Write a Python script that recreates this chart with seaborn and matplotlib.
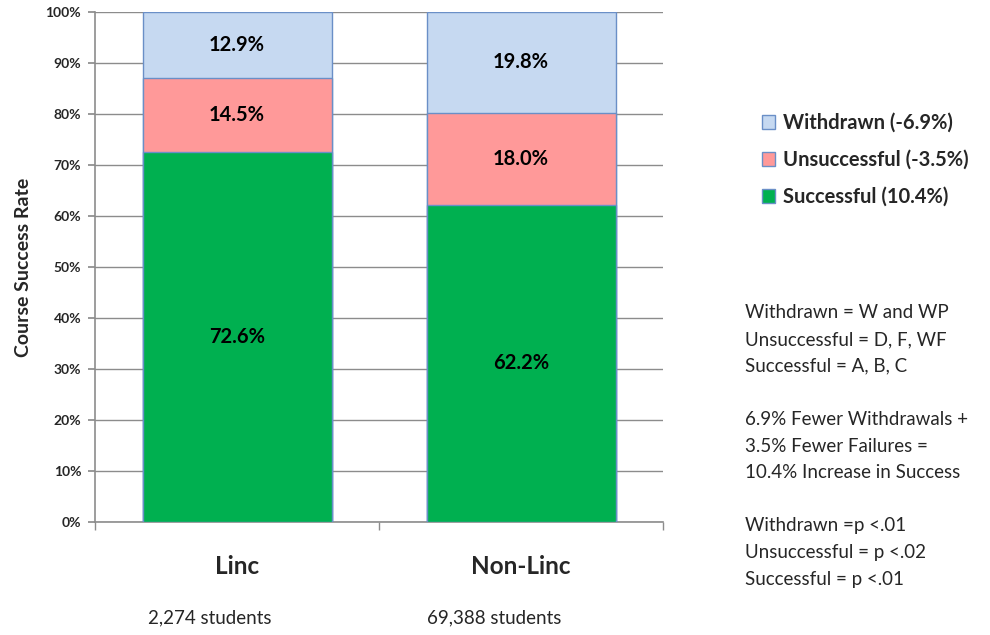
import matplotlib
matplotlib.use("Agg")
import matplotlib.pyplot as plt
import matplotlib.transforms as mtransforms
from matplotlib.patches import Patch
import seaborn as sns
import pandas as pd
import numpy as np

groups = ["Linc", "Non-Linc"]
students = ["2,274 students", "69,388 students"]
successful = [72.6, 62.2]
unsuccessful = [14.5, 18.0]
withdrawn = [12.9, 19.8]
legend_labels = ["Withdrawn (-6.9%)", "Unsuccessful (-3.5%)", "Successful (10.4%)"]
yticks = [0, 10, 20, 30, 40, 50, 60, 70, 80, 90, 100]
notes = ["Withdrawn = W and WP", "Unsuccessful = D, F, WF", "Successful = A, B, C", "",
         "6.9% Fewer Withdrawals +", "3.5% Fewer Failures =", "10.4% Increase in Success", "",
         "Withdrawn =p <.01", "Unsuccessful = p <.02", "Successful = p <.01"]

c_succ = "#00B050"
c_uns = "#FF9999"
c_wd = "#C6D9F1"
edge = "#6A8FC7"

sns.set_theme(style="white")
plt.rcParams['font.family'] = ['Lato', 'DejaVu Sans']

df = pd.DataFrame({"group": groups, "s": successful, "u": unsuccessful, "w": withdrawn})
df["su"] = df["s"] + df["u"]
df["suw"] = df["su"] + df["w"]

fig = plt.figure(figsize=(9.9, 6.35), dpi=100)
ax = fig.add_axes([95/990, 1-522/635, (663-95)/990, 510/635])

w = 189/284
sns.barplot(data=df, x="group", y="suw", color=c_wd, width=w, edgecolor=edge, linewidth=1, ax=ax, saturation=1, zorder=3)
sns.barplot(data=df, x="group", y="su", color=c_uns, width=w, edgecolor=edge, linewidth=1, ax=ax, saturation=1, zorder=3)
sns.barplot(data=df, x="group", y="s", color=c_succ, width=w, edgecolor=edge, linewidth=1, ax=ax, saturation=1, zorder=3)

for i in range(len(groups)):
    for base, val in [(0, successful[i]), (successful[i], unsuccessful[i]), (successful[i] + unsuccessful[i], withdrawn[i])]:
        ax.text(i, base + val/2, f"{val:.1f}%", ha="center", va="center", fontsize=14.5,
                fontweight="bold", color="black", zorder=5)

ax.set_xlim(-0.5, 1.5)
ax.set_ylim(0, 100)
ax.set_yticks(yticks)
ax.set_yticklabels([f"{t}%" for t in yticks], fontsize=10, fontweight="bold")
ax.yaxis.grid(True, color="#8C8C8C", linewidth=1, zorder=0)
ax.set_axisbelow(True)
for s in ["top", "right"]:
    ax.spines[s].set_visible(False)
for s in ["left", "bottom"]:
    ax.spines[s].set_color("#8C8C8C")
    ax.spines[s].set_linewidth(1.2)
ax.tick_params(axis="y", left=True, length=5, color="#8C8C8C", pad=5)
ax.set_xticks([0, 1])
ax.set_xticklabels(groups, fontsize=17.5, fontweight="bold")
ax.tick_params(axis="x", which="major", length=0, pad=24)
ax.set_xticks([-0.5, 0.5, 1.5], minor=True)
ax.tick_params(axis="x", which="minor", length=6, color="#8C8C8C", bottom=True)
ax.set_xlabel("")
ax.set_ylabel("Course Success Rate", fontsize=14, fontweight="bold", labelpad=10)

trans = mtransforms.blended_transform_factory(ax.transData, fig.transFigure)
for i, s in enumerate(students):
    ax.text(i - 0.095, 1-618/635, s, transform=trans, ha="center", va="center", fontsize=13.5)

handles = [Patch(facecolor=c, edgecolor=edge, linewidth=1) for c in [c_wd, c_uns, c_succ]]
leg = fig.legend(handles, legend_labels, loc="upper left", bbox_to_anchor=(744/990, 1-95/635),
                 frameon=False, prop={"weight": "bold", "size": 14.5}, handlelength=0.65,
                 handleheight=0.65, handletextpad=0.4, labelspacing=0.84)

y0 = 313
for k, line in enumerate(notes):
    if line:
        fig.text(745/990, 1-(y0 + k*26.6)/635, line, ha="left", va="center", fontsize=13.5)

fig.savefig("out.png", dpi=100)
